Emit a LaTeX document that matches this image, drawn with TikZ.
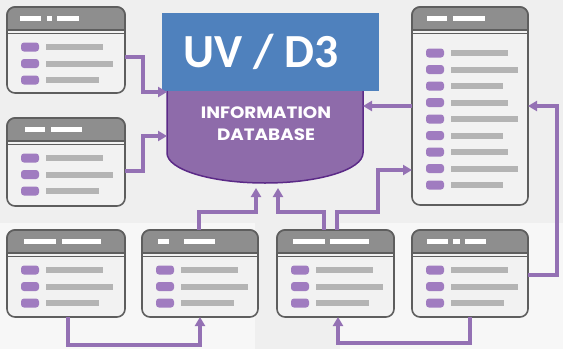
\documentclass[tikz,border=0pt]{standalone}
\usepackage{fontspec}
\newfontfamily\carl{Carlito}
\newfontfamily\pop{Poppins}
\usetikzlibrary{arrows.meta,calc}
\definecolor{bgc}{HTML}{EFEFEF}
\definecolor{bgl}{HTML}{F7F7F7}
\definecolor{hdrc}{HTML}{8E8E8E}
\definecolor{edgec}{HTML}{5E5E5E}
\definecolor{bodyc}{HTML}{F2F2F2}
\definecolor{bulc}{HTML}{A07CC0}
\definecolor{barc}{HTML}{B4B4B4}
\definecolor{arrc}{HTML}{9471B4}
\definecolor{dbfill}{HTML}{8E6BAA}
\definecolor{dbedge}{HTML}{5B2A87}
\definecolor{ttlblue}{HTML}{4F81BD}
\tikzset{
  winbox/.style={draw=edgec, line width=1.6pt, fill=bodyc, rounded corners=8pt, inner sep=0pt, outer sep=0pt, anchor=north west},
  hdrbox/.style={draw=edgec, line width=1.6pt, fill=hdrc},
  sepline/.style={draw=edgec, line width=1.6pt},
  arr/.style={draw=arrc, line width=3.2pt, -{Triangle[length=9pt,width=10pt]}},
}
\newcommand\win[5]{%
  \node[winbox, minimum width=#4pt, minimum height=#5pt] (#1) at (#2,#3) {};
  \draw[hdrbox] ([yshift=-23pt]#1.north west) [rounded corners=8pt] -- (#1.north west) -- (#1.north east) [sharp corners] -- ([yshift=-23pt]#1.north east) -- cycle;
  \draw[sepline] ([yshift=-26.5pt]#1.north west) -- ([yshift=-26.5pt]#1.north east);
}
\newcommand\rw[3]{%
  \fill[bulc, rounded corners=3pt] ([xshift=14pt,yshift={4.5pt-#2pt}]#1.north west) rectangle ++(18,9);
  \fill[barc] ([xshift=39pt,yshift={3pt-#2pt}]#1.north west) rectangle ++(#3,6);
}
\newcommand\hm[3]{%
  \fill[white] ([xshift=#2pt,yshift=-8.5pt]#1.north west) rectangle ([xshift=#3pt,yshift=-14pt]#1.north west);
}
\begin{document}
\begin{tikzpicture}[x=1pt,y=-1pt]
\useasboundingbox (0,0) rectangle (563,349);
\fill[bgc] (0,0) rectangle (563,349);
\fill[bgl] (0,223) rectangle (255,349);
\fill[bgl] (340,223) rectangle (563,349);
% database cylinder
\draw[fill=dbfill, draw=dbedge, line width=1.5pt] (167,60) -- (167,153) arc[start angle=180, end angle=360, x radius=98pt, y radius=30pt] -- (363,60) -- cycle;
\node[minimum width=196pt, minimum height=143pt, anchor=north west, inner sep=0pt, outer sep=0pt] (db) at (167,40) {};
\node[text=white, align=center, inner sep=0pt, font=\pop\bfseries\fontsize{16.5}{22}\selectfont] (dbl) at (266,124) {\scalebox{1.11}[1]{INFORMATION}\\\scalebox{1.11}[1]{DATABASE}};
% title box
\node[fill=ttlblue, minimum width=217pt, minimum height=78pt, anchor=north west, inner sep=0pt, outer sep=0pt] (ttl) at (162,13) {};
\node[text=white, anchor=base west, inner sep=0pt, font=\carl\bfseries\fontsize{47.5}{47.5}\selectfont] (uv) at (183,67) {UV / D3};
% windows
\win{w1}{7}{7}{118}{86}
\hm{w1}{13}{34}\hm{w1}{40}{45}\hm{w1}{50}{72}
\rw{w1}{40}{57}\rw{w1}{56.5}{67}\rw{w1}{73}{53}
\win{w2}{7}{118}{118}{88}
\hm{w2}{18}{38}\hm{w2}{44}{75}
\rw{w2}{40}{57}\rw{w2}{56.5}{67}\rw{w2}{73}{53}
\win{w3}{412}{7}{116}{198}
\hm{w3}{15}{35}\hm{w3}{41}{73}
\rw{w3}{46}{57}\rw{w3}{62.5}{67}\rw{w3}{79}{52}
\rw{w3}{95.5}{57}\rw{w3}{112}{67}\rw{w3}{128.5}{52}
\rw{w3}{145}{57}\rw{w3}{161.5}{67}\rw{w3}{178}{52}
\win{w6}{7}{230}{118}{87}
\hm{w6}{17}{49}\hm{w6}{55}{94}
\rw{w6}{40}{57}\rw{w6}{56.5}{67}\rw{w6}{73}{53}
\win{w7}{142}{230}{116}{87}
\hm{w7}{16}{27}\hm{w7}{42}{73}
\rw{w7}{40}{57}\rw{w7}{56.5}{67}\rw{w7}{73}{53}
\win{w5}{277}{230}{117}{87}
\hm{w5}{16}{48}\hm{w5}{53}{92}
\rw{w5}{40}{57}\rw{w5}{56.5}{67}\rw{w5}{73}{53}
\win{w4}{412}{230}{116}{87}
\hm{w4}{15}{36}\hm{w4}{41}{48}\hm{w4}{53}{74}
\rw{w4}{40}{57}\rw{w4}{56.5}{67}\rw{w4}{73}{53}
% connectors
\draw[arr] ([yshift=-7pt]w1.east) -- ++(18,0) |- ([yshift=19.5pt]db.west);
\draw[arr] ([yshift=-9pt]w2.east) -- ++(18,0) |- ([yshift=-24.5pt]db.west);
\draw[arr] (w3.west) -- (w3.west -| db.east);
\draw[arr] ([yshift=-1.5pt]w4.east) -- ++(29,0) |- (w3.east);
\draw[arr] ([xshift=1.5pt]w5.north) -- ++(0,-18) -- ++(41,0) |- ([yshift=-64pt]w3.west);
\draw[arr] ([xshift=-11.5pt]w5.north) -- ++(0,-18) -| ([xshift=13pt,yshift=-5pt]db.south);
\draw[arr] ([xshift=-1pt]w7.north) -- ++(0,-18) -| ([xshift=-9pt,yshift=-5pt]db.south);
\draw[arr] ([xshift=2pt]w6.south) -- ++(0,28) -| (w7.south);
\draw[arr] (w4.south) -- ++(0,26) -| ([xshift=2.5pt]w5.south);
\end{tikzpicture}
\end{document}
